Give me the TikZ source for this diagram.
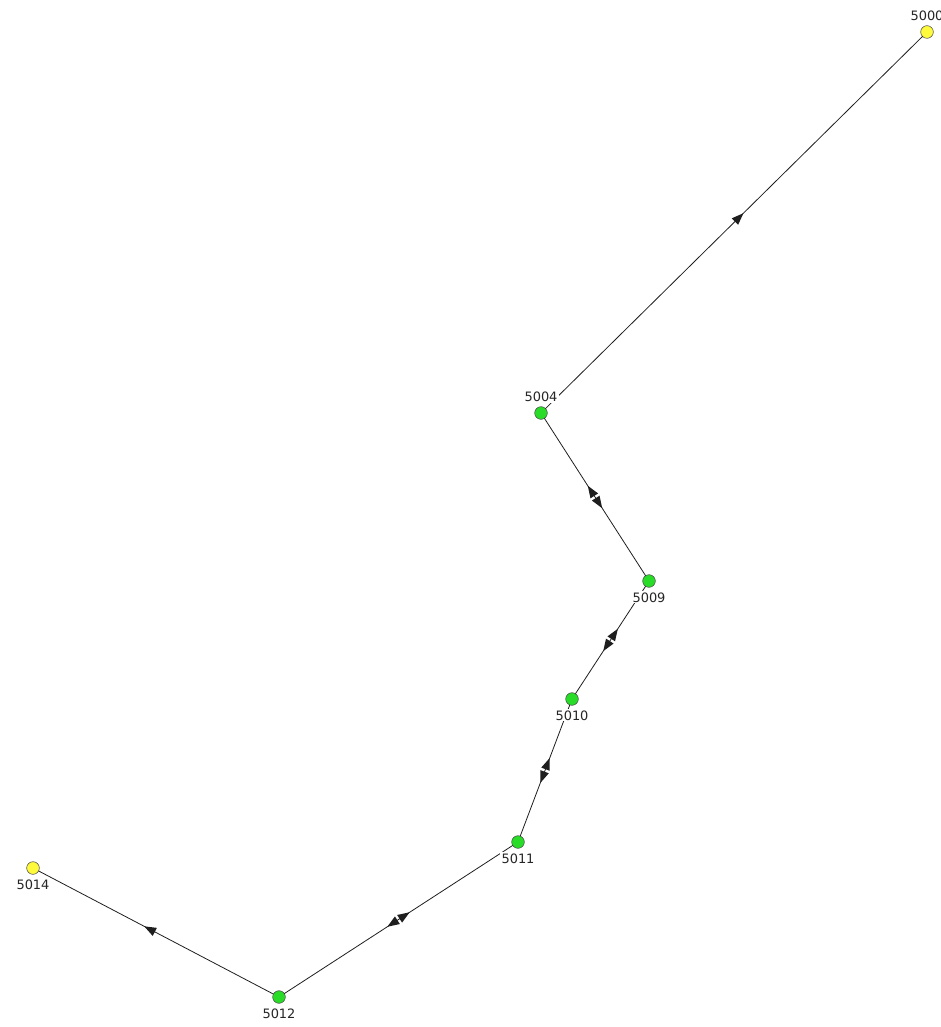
\documentclass[tikz,border=0pt]{standalone}
\usepackage{fontspec}
\setmainfont{DejaVu Sans}
\usetikzlibrary{positioning,decorations.markings}
\definecolor{jgreen}{RGB}{40,220,40}
\definecolor{jyellow}{RGB}{255,250,60}
\definecolor{pipegray}{RGB}{30,30,30}
\tikzset{
  junc/.style={draw=black!70,circle,inner sep=0pt,outer sep=0pt,minimum size=9.5pt,fill=jgreen},
  tank/.style={junc,fill=jyellow},
  idlbl/.style={fill=white,inner sep=0.8pt,text=black!85,font=\fontsize{9.7}{11}\selectfont},
  pipe/.style={draw=pipegray,line width=0.6pt},
  flowfwd/.style={postaction={decorate},decoration={markings,
      mark=at position 0.5 with {\fill[pipegray] (1pt,3.4pt) -- (10pt,0pt) -- (1pt,-3.4pt) -- cycle;}}},
  flowboth/.style={postaction={decorate},decoration={markings,
      mark=at position 0.5 with {\fill[pipegray] (1pt,3.4pt) -- (10pt,0pt) -- (1pt,-3.4pt) -- cycle;
                                 \fill[pipegray] (-1pt,3.4pt) -- (-10pt,0pt) -- (-1pt,-3.4pt) -- cycle;}}}
}
\begin{document}
\begin{tikzpicture}[x=0.75pt,y=-0.75pt]
  \useasboundingbox (0,0) rectangle (940,1027);
  % junctions and tanks
  \node[tank] (n5000) at (927,32) {};
  \node[junc] (n5004) at (541,413) {};
  \node[junc] (n5009) at (649,581) {};
  \node[junc] (n5010) at (572,699) {};
  \node[junc] (n5011) at (518,842) {};
  \node[junc] (n5012) at (279,997) {};
  \node[tank] (n5014) at (33,868) {};
  % pipes
  \draw[pipe,flowfwd] (n5004) -- (n5000);
  \draw[pipe,flowboth] (n5004) -- (n5009);
  \draw[pipe,flowboth] (n5009) -- (n5010);
  \draw[pipe,flowboth] (n5010) -- (n5011);
  \draw[pipe,flowboth] (n5011) -- (n5012);
  \draw[pipe,flowfwd] (n5012) -- (n5014);
  % ids
  \node[idlbl,above=2.8pt of n5000] (l5000) {5000};
  \node[idlbl,above=2.8pt of n5004] (l5004) {5004};
  \node[idlbl,below=2.8pt of n5009] (l5009) {5009};
  \node[idlbl,below=2.8pt of n5010] (l5010) {5010};
  \node[idlbl,below=2.8pt of n5011] (l5011) {5011};
  \node[idlbl,below=2.8pt of n5012] (l5012) {5012};
  \node[idlbl,below=3.2pt of n5014] (l5014) {5014};
\end{tikzpicture}
\end{document}
